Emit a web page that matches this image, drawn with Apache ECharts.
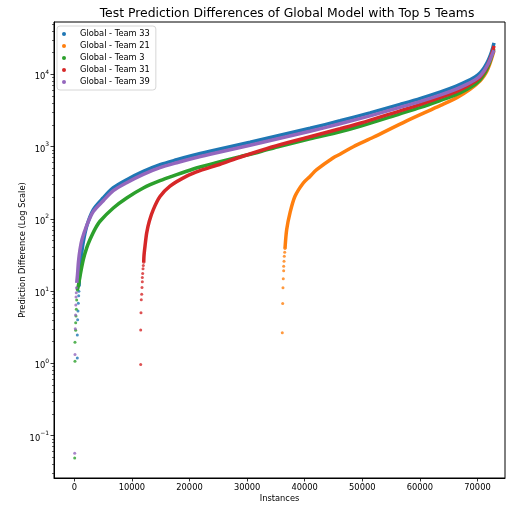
<!DOCTYPE html>
<html>
<head>
    <meta charset="utf-8">
    <title>Test Prediction Differences</title>
    <script src="https://cdn.jsdelivr.net/npm/echarts@6/dist/echarts.min.js"></script>
    <style>
        html, body { margin: 0; padding: 0; background: #fff; }
        #main { width: 506px; height: 508px; }
    </style>
</head>
<body>
<div id="main"></div>
<script type="text/javascript">

// tick labels
var xTicks = [0, 10000, 20000, 30000, 40000, 50000, 60000, 70000];
var yDecades = [-1, 0, 1, 2, 3, 4];
var teamNames = ['Global - Team 33', 'Global - Team 21', 'Global - Team 3', 'Global - Team 31', 'Global - Team 39'];
var teamColors = ['#1f77b4', '#ff7f0e', '#2ca02c', '#d62728', '#9467bd'];

// Team 33 (blue)
var t33HeadX = [520, 520, 580, 640, 700, 760, 800];
var t33HeadY = [1.18, 2.46, 4.0, 5.3, 6.8, 8.6, 9.9];
var t33X = [816, 990, 1250, 1510, 2153, 3299, 5035, 6771, 9097, 11979, 14878, 17778, 20660, 23559, 27031, 30503, 35712, 40920, 46128, 51337, 56545, 60122, 63594, 66198, 68125, 69566, 70434, 71128, 71649, 72083, 72431, 72691, 72865];
var t33Y = [11.6, 21.2, 32, 45.4, 78.8, 134, 196, 270, 348, 453, 561, 657, 758, 861, 994, 1147, 1432, 1789, 2272, 2930, 3840, 4647, 5713, 6807, 7978, 9207, 10455, 12257, 14375, 17120, 20390, 23900, 27150];

// Team 21 (orange)
var t21HeadX = [36110, 36180, 36230, 36280, 36350, 36350, 36410, 36460, 36530, 36580];
var t21HeadY = [2.65, 6.7, 11.1, 14.8, 19.1, 22, 25.9, 30.3, 34.5, 38.7];
var t21X = [36580, 36875, 37448, 38316, 39757, 40920, 42083, 44965, 46128, 48438, 51910, 57708, 63594, 66493, 68698, 70434, 71128, 71649, 72083, 72431, 72691, 72865];
var t21Y = [38.7, 70.9, 121, 205, 313, 386, 478, 700, 783, 994, 1344, 2272, 3719, 4797, 6186, 8105, 9505, 11140, 13485, 16320, 19130, 21050];

// Team 3 (green)
var t3HeadX = [70, 120, 120, 240, 240, 300, 350, 420, 520];
var t3HeadY = [0.049, 1.07, 1.95, 2.86, 3.65, 4.5, 5.6, 7.5, 10.3];
var t3X = [520, 694, 990, 1563, 2153, 2726, 3594, 4462, 6771, 9097, 11979, 14878, 17778, 20660, 21823, 25295, 28767, 32240, 35712, 40920, 46128, 49601, 56545, 60122, 63594, 66198, 68125, 69566, 70434, 71128, 71649, 72083, 72431, 72691, 72865];
var t3Y = [10.3, 11.7, 16.1, 27.3, 39.6, 51.6, 72, 92.4, 141, 194, 267, 337, 408, 489, 521, 617, 723, 848, 1010, 1281, 1601, 1907, 2838, 3490, 4360, 5194, 6186, 7254, 8370, 9970, 11875, 14375, 17390, 20390, 22430];

// Team 31 (red)
var t31HeadX = [11530, 11530, 11580, 11630, 11700, 11750, 11810, 11810, 11870, 11930, 11980, 12050];
var t31HeadY = [0.96, 2.88, 5.0, 7.6, 9.0, 11.2, 13.4, 15.4, 17.5, 20.3, 22.6, 25];
var t31X = [12050, 12101, 12274, 12569, 13021, 13715, 14878, 16615, 19514, 21823, 25295, 28767, 32240, 35712, 40920, 46128, 49601, 56545, 60122, 63594, 66198, 68125, 69566, 70434, 71128, 71649, 72083, 72431, 72691, 72865];
var t31Y = [25, 31, 41.7, 63.9, 92.4, 134, 203, 283, 389, 463, 569, 711, 875, 1059, 1366, 1762, 2098, 3123, 3840, 4797, 5713, 6807, 7978, 9060, 10795, 12856, 15560, 18535, 21730, 24680];

// Team 39 (purple)
var t39HeadX = [70, 120, 170, 220, 260, 300, 340, 380];
var t39HeadY = [0.057, 1.32, 3.0, 4.66, 6.4, 8.3, 9.5, 11.1];
var t39X = [420, 556, 729, 990, 1337, 2153, 3299, 5035, 6771, 9097, 11979, 14878, 17778, 20660, 23559, 27031, 30503, 35712, 40920, 46128, 51337, 56545, 60122, 63594, 66198, 68125, 69566, 70434, 71128, 71649, 72083, 72431, 72691, 72865];
var t39Y = [13, 16.9, 25.6, 37.5, 51.6, 80.5, 126, 178, 245, 316, 412, 510, 597, 689, 783, 904, 1043, 1302, 1626, 2065, 2663, 3490, 4224, 5193, 6188, 7252, 8369, 9504, 11142, 13067, 15200, 17800, 20000, 21500];

var heads = [[t33HeadX, t33HeadY], [t21HeadX, t21HeadY], [t3HeadX, t3HeadY], [t31HeadX, t31HeadY], [t39HeadX, t39HeadY]];
var bodies = [[t33X, t33Y], [t21X, t21Y], [t3X, t3Y], [t31X, t31Y], [t39X, t39Y]];

function toLog(xs, ys) {
    var out = [];
    for (var i = 0; i < xs.length; i++) out.push([xs[i], Math.log10(ys[i])]);
    return out;
}

// minor ticks at 2..9 x 10^n
var minorTicks = [];
for (var n = -2; n <= 4; n++) {
    for (var k = 2; k <= 9; k++) minorTicks.push(Math.log10(k) + n);
}

function yLabel(v) {
    var e = Math.round(v);
    var s = e < 0 ? '\u2212' + (-e) : String(e);
    return '{b|10}{s|' + s + '}';
}

var font = 'DejaVu Sans';
var series = [];
for (var i = 0; i < 5; i++) {
    series.push({
        name: teamNames[i],
        type: 'line',
        data: toLog(bodies[i][0], bodies[i][1]),
        showSymbol: false,
        smooth: 0.3,
        lineStyle: {color: teamColors[i], width: 3.5},
        itemStyle: {color: teamColors[i]},
        z: 2 + i
    });
    series.push({
        name: teamNames[i],
        type: 'scatter',
        data: toLog(heads[i][0], heads[i][1]),
        symbolSize: 3,
        itemStyle: {color: teamColors[i]},
        z: 2 + i
    });
}

var myChart = echarts.init(document.getElementById('main'));
var option = {
    animation: false,
    backgroundColor: '#fff',
    title: {
        text: 'Test Prediction Differences of Global Model with Top 5 Teams',
        left: 282,
        top: 3,
        textAlign: 'center',
        textStyle: {fontFamily: font, fontSize: 12.4, fontWeight: 'normal', color: '#000'}
    },
    legend: {
        orient: 'vertical',
        left: 57,
        top: 26,
        padding: [2, 6, 2, 5],
        itemGap: 0,
        itemWidth: 12,
        itemHeight: 4,
        icon: 'circle',
        backgroundColor: 'rgba(255,255,255,0.8)',
        borderColor: '#d6d6d6',
        borderWidth: 1,
        borderRadius: 3,
        data: teamNames,
        textStyle: {fontFamily: font, fontSize: 8.3, color: '#000', lineHeight: 12, padding: [0, 0, 0, 5]}
    },
    grid: {
        left: 54, right: 1, top: 22, bottom: 29,
        show: true, borderColor: '#000', borderWidth: 1, backgroundColor: 'transparent'
    },
    xAxis: {
        type: 'value',
        min: -3524,
        max: 74776,
        name: 'Instances',
        nameLocation: 'middle',
        nameGap: 17,
        nameMoveOverlap: false,
        nameTextStyle: {fontFamily: font, fontSize: 8.3, color: '#000'},
        splitLine: {show: false},
        axisLine: {show: true, onZero: false, lineStyle: {color: '#000', width: 1}},
        axisTick: {show: true, length: 3.5, customValues: xTicks, lineStyle: {color: '#000', width: 0.8}},
        axisLabel: {
            customValues: xTicks, margin: 6, fontFamily: font, fontSize: 8.3, color: '#000',
            formatter: function (v) { return String(v); }
        }
    },
    yAxis: [{
        type: 'value',
        min: -1.588,
        max: 4.724,
        name: 'Prediction Difference (Log Scale)',
        nameLocation: 'middle',
        nameGap: 27,
        nameMoveOverlap: false,
        nameTextStyle: {fontFamily: font, fontSize: 8.3, color: '#000'},
        splitLine: {show: false},
        axisLine: {show: true, onZero: false, lineStyle: {color: '#000', width: 1}},
        axisTick: {show: true, length: 3.5, customValues: yDecades, lineStyle: {color: '#000', width: 0.8}},
        axisLabel: {
            customValues: yDecades,
            margin: 5,
            formatter: yLabel,
            rich: {
                b: {fontFamily: font, fontSize: 8.3, color: '#000', lineHeight: 10, padding: [4, 0, 4, 0], verticalAlign: 'top'},
                s: {fontFamily: font, fontSize: 6, color: '#000', lineHeight: 7, verticalAlign: 'top'}
            }
        }
    }, {
        type: 'value',
        min: -1.588,
        max: 4.724,
        position: 'left',
        splitLine: {show: false},
        axisLine: {show: false, onZero: false},
        axisLabel: {show: false},
        axisTick: {show: true, length: 2, customValues: minorTicks, lineStyle: {color: '#000', width: 0.6}}
    }],
    series: series
};
myChart.setOption(option);
window.onresize = myChart.resize;
</script>
</body>
</html>
